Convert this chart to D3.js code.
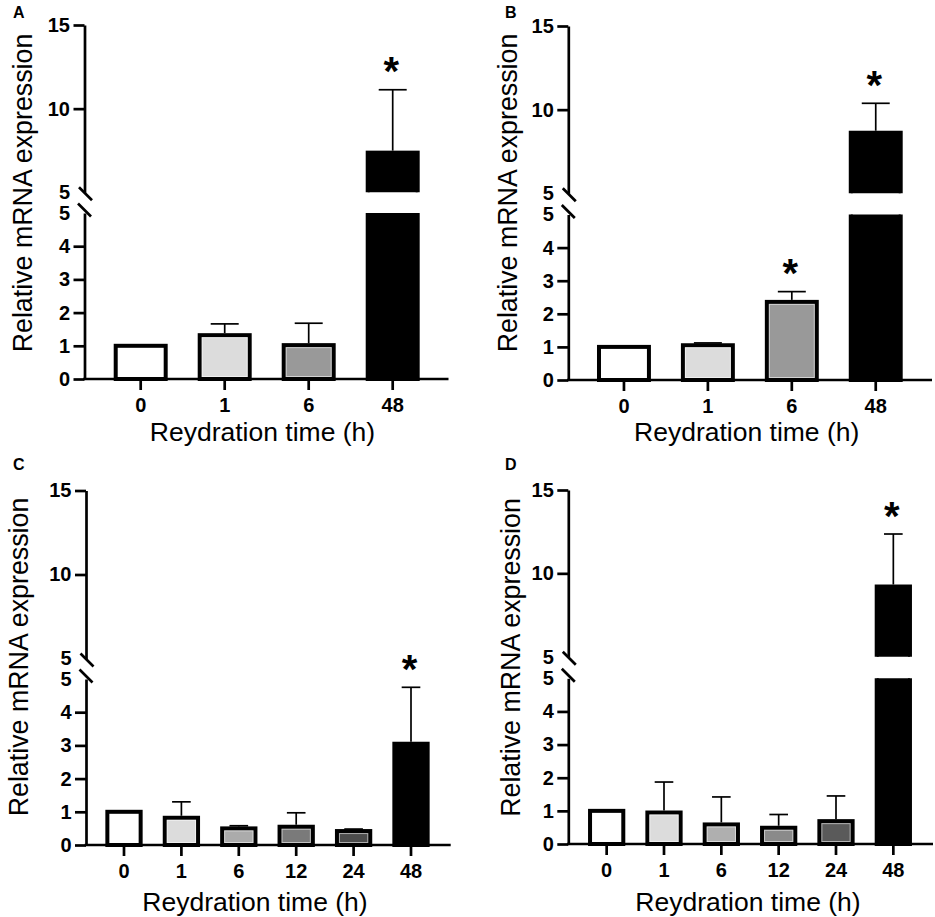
<!DOCTYPE html>
<html>
<head>
<meta charset="utf-8">
<script src="https://cdn.jsdelivr.net/npm/d3@7/dist/d3.min.js"></script>
<style>
  html, body { margin: 0; padding: 0; background: #fff; }
  svg { display: block; }
  text { font-family: "Liberation Sans", Arial, Helvetica, sans-serif; fill: #000; }
</style>
</head>
<body>
<svg id="chart" width="935" height="917"></svg>
<script>
// ---------------- data ----------------
const categories4 = ["0", "1", "6", "48"];
const categories6 = ["0", "1", "6", "12", "24", "48"];

const meanA = [1.00, 1.32, 1.02, 7.37];
const sdA   = [0.00, 0.34, 0.66, 3.76];
const sigA  = [false, false, false, true];

const meanB = [1.00, 1.05, 2.36, 8.62];
const sdB   = [0.00, 0.07, 0.31, 1.76];
const sigB  = [false, false, true, true];

const meanC = [1.00, 0.82, 0.50, 0.55, 0.42, 3.05];
const sdC   = [0.00, 0.48, 0.08, 0.42, 0.06, 1.70];
const sigC  = [false, false, false, false, false, true];

const meanD = [1.00, 0.95, 0.59, 0.49, 0.69, 9.21];
const sdD   = [0.00, 0.92, 0.83, 0.40, 0.76, 3.15];
const sigD  = [false, false, false, false, false, true];

const yTicksLower = [0, 1, 2, 3, 4, 5];
const yTicksUpper = [5, 10, 15];
const breakValue = 5;

const panelLetters = ["A", "B", "C", "D"];
const xAxisTitle = "Reydration time (h)";
const yAxisTitle = "Relative mRNA expression";

// ---------------- styles / layout ----------------
const fills4 = ["#ffffff", "#dcdcdc", "#999999", "#000000"];
const fillsC = ["#ffffff", "#dcdcdc", "#ababab", "#7a7a7a", "#4c4c4c", "#000000"];
const fillsD = ["#ffffff", "#dcdcdc", "#afafaf", "#8a8a8a", "#5a5a5a", "#000000"];

const panels = [
  { letter: panelLetters[0], cats: categories4, mean: meanA, sd: sdA, sig: sigA, fills: fills4,
    axisX: 84.5, y0: 379, y5L: 213, y5U: 192.3, y15: 25, xRange: [98.7, 434.7], xEnd: 448.5,
    letterPos: [13, 18.3], yTitlePos: [31.7, 193], xTitlePos: [262.5, 440.5], pad: 0.405 },
  { letter: panelLetters[1], cats: categories4, mean: meanB, sd: sdB, sig: sigB, fills: fills4,
    axisX: 568.3, y0: 380, y5L: 214.5, y5U: 193.3, y15: 26, xRange: [582, 917.7], xEnd: 932,
    letterPos: [505, 18.3], yTitlePos: [517, 193], xTitlePos: [746.7, 440.5], pad: 0.405 },
  { letter: panelLetters[2], cats: categories6, mean: meanC, sd: sdC, sig: sigC, fills: fillsC,
    axisX: 86, y0: 845, y5L: 679, y5U: 658.5, y15: 490.5, xRange: [95.3, 439.7], xEnd: 450.7,
    letterPos: [13, 470], yTitlePos: [28.3, 657], xTitlePos: [255, 910.5], pad: 0.42 },
  { letter: panelLetters[3], cats: categories6, mean: meanD, sd: sdD, sig: sigD, fills: fillsD,
    axisX: 568.3, y0: 844, y5L: 678.3, y5U: 656.7, y15: 490, xRange: [578, 922], xEnd: 933,
    letterPos: [505, 470], yTitlePos: [520, 657.5], xTitlePos: [748, 910.5], pad: 0.42 }
];

const svg = d3.select("#chart");
const AXIS_W = 2.7, BAR_STROKE = 4, ERR_W = 1.7, TICK = 11;

panels.forEach((p, pi) => {
  const g = svg.append("g");
  const yLow = d3.scaleLinear().domain([0, breakValue]).range([p.y0, p.y5L]);
  const yUp = d3.scaleLinear().domain([breakValue, 15]).range([p.y5U, p.y15]);
  const x = d3.scaleBand().domain(p.cats).range(p.xRange)
    .paddingInner(p.pad).paddingOuter(p.pad / 2);
  const bw = x.bandwidth();

  // clip paths for segments
  const defs = g.append("defs");
  defs.append("clipPath").attr("id", "clipLow" + pi).append("rect")
    .attr("x", p.axisX).attr("y", p.y5L).attr("width", p.xEnd - p.axisX).attr("height", p.y0 - p.y5L + 10);
  defs.append("clipPath").attr("id", "clipUp" + pi).append("rect")
    .attr("x", p.axisX).attr("y", p.y15 - 60).attr("width", p.xEnd - p.axisX).attr("height", p.y5U - p.y15 + 60);

  const data = p.cats.map((c, i) => ({ cat: c, mean: p.mean[i], sd: p.sd[i], sig: p.sig[i], fill: p.fills[i] }));

  // bars: lower segment
  const low = g.append("g").attr("clip-path", `url(#clipLow${pi})`);
  low.selectAll("rect.bar").data(data).join("rect").attr("class", "bar")
    .attr("x", d => x(d.cat))
    .attr("width", bw)
    .attr("y", d => yLow(Math.min(d.mean, breakValue + 1)))
    .attr("height", d => yLow(0) - yLow(Math.min(d.mean, breakValue + 1)))
    .attr("fill", d => d.fill).attr("stroke", "#000").attr("stroke-width", BAR_STROKE);
  // inner highlight on grey bars
  low.selectAll("rect.hl").data(data.filter(d => d.fill !== "#ffffff" && d.fill !== "#000000")).join("rect")
    .attr("class", "hl")
    .attr("x", d => x(d.cat) + 2.5)
    .attr("width", bw - 5)
    .attr("y", d => yLow(d.mean) + 2.5)
    .attr("height", d => Math.max(0, yLow(0) - yLow(d.mean) - 5))
    .attr("fill", "none").attr("stroke", "#ffffff").attr("stroke-opacity", 0.55).attr("stroke-width", 1);

  // bars: upper segment
  const upData = data.filter(d => d.mean > breakValue);
  const up = g.append("g").attr("clip-path", `url(#clipUp${pi})`);
  up.selectAll("rect.bar").data(upData).join("rect").attr("class", "bar")
    .attr("x", d => x(d.cat))
    .attr("width", bw)
    .attr("y", d => yUp(d.mean))
    .attr("height", d => yUp(breakValue) - yUp(d.mean) + 10)
    .attr("fill", d => d.fill).attr("stroke", "#000").attr("stroke-width", BAR_STROKE);

  // error bars (upward)
  const yv = v => (v > breakValue ? yUp(v) : yLow(v));
  const errData = data.filter(d => d.sd > 0);
  const capW = bw * 0.56;
  g.selectAll("line.stem").data(errData).join("line").attr("class", "stem")
    .attr("x1", d => x(d.cat) + bw / 2).attr("x2", d => x(d.cat) + bw / 2)
    .attr("y1", d => yv(d.mean) - BAR_STROKE / 2).attr("y2", d => yv(d.mean + d.sd))
    .attr("stroke", "#000").attr("stroke-width", ERR_W);
  g.selectAll("line.cap").data(errData).join("line").attr("class", "cap")
    .attr("x1", d => x(d.cat) + bw / 2 - capW / 2).attr("x2", d => x(d.cat) + bw / 2 + capW / 2)
    .attr("y1", d => yv(d.mean + d.sd)).attr("y2", d => yv(d.mean + d.sd))
    .attr("stroke", "#000").attr("stroke-width", ERR_W);

  // significance asterisks
  g.selectAll("text.sig").data(data.filter(d => d.sig)).join("text").attr("class", "sig")
    .attr("x", d => x(d.cat) + bw / 2 - 1.5)
    .attr("y", d => yv(d.mean + d.sd) - 4.5)
    .attr("text-anchor", "middle")
    .style("font-size", "40px").style("font-weight", "bold")
    .text("*");

  // y axis lower
  const axL = g.append("g").attr("transform", `translate(${p.axisX},0)`)
    .call(d3.axisLeft(yLow).tickValues(yTicksLower).tickSize(TICK).tickSizeOuter(0).tickPadding(3.5).tickFormat(d3.format("d")));
  const axU = g.append("g").attr("transform", `translate(${p.axisX},0)`)
    .call(d3.axisLeft(yUp).tickValues(yTicksUpper).tickSize(TICK).tickSizeOuter(0).tickPadding(3.5).tickFormat(d3.format("d")));
  [axL, axU].forEach(ax => {
    ax.select(".domain").attr("stroke-width", AXIS_W).attr("stroke", "#000");
    ax.selectAll(".tick line").attr("stroke-width", AXIS_W).attr("stroke", "#000")
      .filter(d => d === breakValue).remove();
    ax.selectAll(".tick text").style("font-size", "20px").style("font-weight", "bold")
      .attr("fill", "#000").attr("font-family", null);
  });

  // axis break slashes
  const slash = (cx, cy) => g.append("line")
    .attr("x1", cx - 6.5).attr("y1", cy - 6.5).attr("x2", cx + 6.5).attr("y2", cy + 6.5)
    .attr("stroke", "#000").attr("stroke-width", AXIS_W);
  slash(p.axisX + 1, yUp(breakValue) + 1.5);
  slash(p.axisX, yLow(breakValue) - 3);

  // x axis
  g.append("line").attr("x1", p.axisX - AXIS_W / 2).attr("x2", p.xEnd).attr("y1", p.y0).attr("y2", p.y0)
    .attr("stroke", "#000").attr("stroke-width", AXIS_W);
  const axX = g.append("g").attr("transform", `translate(0,${p.y0})`)
    .call(d3.axisBottom(x).tickSize(TICK).tickSizeOuter(0).tickPadding(7.3));
  axX.select(".domain").remove();
  axX.selectAll(".tick line").attr("stroke-width", AXIS_W).attr("stroke", "#000");
  axX.selectAll(".tick text").style("font-size", "20px").style("font-weight", "bold")
    .attr("fill", "#000").attr("font-family", null);

  // titles
  g.append("text").attr("x", p.xTitlePos[0]).attr("y", p.xTitlePos[1])
    .attr("text-anchor", "middle").style("font-size", "26.5px").text(xAxisTitle);
  g.append("text").attr("transform", `translate(${p.yTitlePos[0]},${p.yTitlePos[1]}) rotate(-90)`)
    .attr("text-anchor", "middle").style("font-size", "26.8px").text(yAxisTitle);
  g.append("text").attr("x", p.letterPos[0]).attr("y", p.letterPos[1])
    .style("font-size", "16px").style("font-weight", "bold").text(p.letter);
});
</script>
</body>
</html>
